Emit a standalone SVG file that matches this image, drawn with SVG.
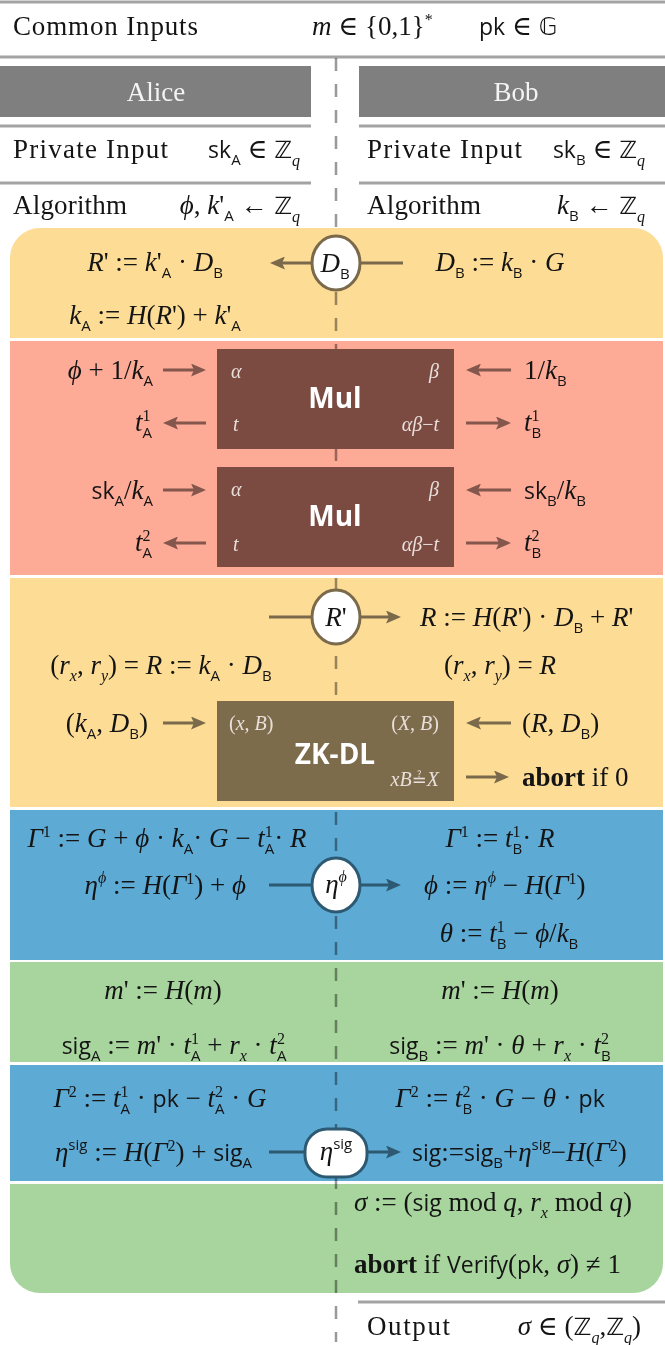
<svg xmlns="http://www.w3.org/2000/svg" width="665" height="1345" viewBox="0 0 665 1345">
<defs>
<style>
text{font-family:"Liberation Serif","DejaVu Serif",serif;font-size:27px;fill:#141414}
.lab{font-size:27px}
.i{font-style:italic}
.sf{font-family:"Open Sans","Liberation Sans",sans-serif;font-style:normal;font-size:23px}
.sb{font-family:"Open Sans","Liberation Sans",sans-serif;font-style:normal;font-size:15px}
.sm{font-size:16px}
.iq{font-style:italic;font-size:16px}
.ds{font-family:"DejaVu Sans",sans-serif;font-size:24px}
.hd{fill:#f4f4f4;font-size:27px}
.bx{font-family:"Open Sans","Liberation Sans",sans-serif;font-weight:700;font-size:28px;fill:#fff}
.pn{font-style:italic;font-size:20px;fill:#e8dfda}
.b{font-weight:700}
.rule{stroke:#a3a3a3;stroke-width:3}
.dash{stroke:#999;stroke-width:2.5;stroke-dasharray:13 13;mix-blend-mode:multiply;fill:none}
.ao{stroke:#7a6a4b;stroke-width:3;fill:none}
.ab{stroke:#84564c;stroke-width:3;fill:none}
.al{stroke:#2d5a72;stroke-width:3;fill:none}
</style>
<marker id="mo" viewBox="0 0 15 13" refX="9" refY="6.5" markerWidth="15" markerHeight="13" markerUnits="userSpaceOnUse" orient="auto"><path d="M0,0 L15,6.5 L0,13 L3,6.5 z" fill="#7a6a4b"/></marker>
<marker id="mb" viewBox="0 0 15 13" refX="9" refY="6.5" markerWidth="15" markerHeight="13" markerUnits="userSpaceOnUse" orient="auto"><path d="M0,0 L15,6.5 L0,13 L3,6.5 z" fill="#84564c"/></marker>
<marker id="ml" viewBox="0 0 15 13" refX="9" refY="6.5" markerWidth="15" markerHeight="13" markerUnits="userSpaceOnUse" orient="auto"><path d="M0,0 L15,6.5 L0,13 L3,6.5 z" fill="#2d5a72"/></marker>
</defs>
<rect width="665" height="1345" fill="#fff"/>

<!-- header rows -->
<g id="common-inputs">
<line class="rule" x1="0" y1="2" x2="665" y2="2"/>
<text class="lab" x="13" y="35" textLength="185" lengthAdjust="spacing">Common Inputs</text>
<text x="312" y="35"><tspan class="i">m</tspan> ∈ {0,1}<tspan class="sm" dy="-10">*</tspan></text>
<text x="479" y="35"><tspan class="sf">pk</tspan> ∈ <tspan class="ds">𝔾</tspan></text>
<line class="rule" x1="0" y1="57" x2="665" y2="57"/>
</g>
<g id="alice">
<rect x="0" y="66" width="311" height="51" fill="#7f7f7f"/>
<text class="hd" x="156" y="101" text-anchor="middle">Alice</text>
<line class="rule" x1="0" y1="126" x2="311" y2="126"/>
<text class="lab" x="13" y="158" textLength="155" lengthAdjust="spacing">Private Input</text>
<text x="300" y="158" text-anchor="end"><tspan class="sf">sk</tspan><tspan class="sb" dy="7">A</tspan><tspan dy="-7"> ∈ </tspan><tspan class="ds">ℤ</tspan><tspan class="iq" dy="8">q</tspan></text>
<line class="rule" x1="0" y1="183" x2="311" y2="183"/>
<text class="lab" x="13" y="214" textLength="114" lengthAdjust="spacing">Algorithm</text>
<text x="300" y="214" text-anchor="end"><tspan class="i">ϕ</tspan>, <tspan class="i">k</tspan>'<tspan class="sb" dy="7">A</tspan><tspan dy="-7"> ← </tspan><tspan class="ds">ℤ</tspan><tspan class="iq" dy="8">q</tspan></text>
</g>
<g id="bob">
<rect x="359" y="66" width="306" height="51" fill="#7f7f7f"/>
<text class="hd" x="516" y="101" text-anchor="middle">Bob</text>
<line class="rule" x1="359" y1="126" x2="665" y2="126"/>
<text class="lab" x="367" y="158" textLength="155" lengthAdjust="spacing">Private Input</text>
<text x="645" y="158" text-anchor="end"><tspan class="sf">sk</tspan><tspan class="sb" dy="7">B</tspan><tspan dy="-7"> ∈ </tspan><tspan class="ds">ℤ</tspan><tspan class="iq" dy="8">q</tspan></text>
<line class="rule" x1="359" y1="183" x2="665" y2="183"/>
<text class="lab" x="367" y="214" textLength="114" lengthAdjust="spacing">Algorithm</text>
<text x="645" y="214" text-anchor="end"><tspan class="i">k</tspan><tspan class="sb" dy="7">B</tspan><tspan dy="-7"> ← </tspan><tspan class="ds">ℤ</tspan><tspan class="iq" dy="8">q</tspan></text>
</g>

<!-- phase bands -->
<g id="bands">
<path d="M10,258 A30,30 0 0 1 40,228 H633 A30,30 0 0 1 663,258 V338 H10 Z" fill="#fddc95"/>
<rect x="10" y="341" width="653" height="234" fill="#fdaa96"/>
<rect x="10" y="578" width="653" height="229" fill="#fddc95"/>
<rect x="10" y="810" width="653" height="150" fill="#5daad5"/>
<rect x="10" y="962" width="653" height="100" fill="#a8d59e"/>
<rect x="10" y="1065" width="653" height="116" fill="#5daad5"/>
<path d="M10,1184 H663 V1263 A30,30 0 0 1 633,1293 H40 A30,30 0 0 1 10,1263 Z" fill="#a8d59e"/>
</g>

<line id="party-divider" class="dash" x1="336" y1="58" x2="336" y2="1342"/>

<g id="connectors">
<path class="ao" d="M403,263 H276" marker-end="url(#mo)"/>
<path class="ab" d="M163,370 H200" marker-end="url(#mb)"/>
<path class="ab" d="M511,370 H472" marker-end="url(#mb)"/>
<path class="ab" d="M206,423 H169" marker-end="url(#mb)"/>
<path class="ab" d="M466,423 H505" marker-end="url(#mb)"/>
<path class="ab" d="M163,490 H200" marker-end="url(#mb)"/>
<path class="ab" d="M511,490 H472" marker-end="url(#mb)"/>
<path class="ab" d="M206,543 H169" marker-end="url(#mb)"/>
<path class="ab" d="M466,543 H505" marker-end="url(#mb)"/>
<path class="ao" d="M269,617 H395" marker-end="url(#mo)"/>
<path class="ao" d="M163,723 H200" marker-end="url(#mo)"/>
<path class="ao" d="M511,723 H472" marker-end="url(#mo)"/>
<path class="ao" d="M466,777 H503" marker-end="url(#mo)"/>
<path class="al" d="M269,885 H395" marker-end="url(#ml)"/>
<path class="al" d="M269,1152 H395" marker-end="url(#ml)"/>
</g>

<!-- messages -->
<g id="msg-DB">
<ellipse cx="336" cy="263" rx="24" ry="27" fill="#fff" stroke="#7a6a4b" stroke-width="3"/>
<text x="335" y="272" text-anchor="middle"><tspan class="i">D</tspan><tspan class="sb" dy="7">B</tspan></text>
</g>
<g id="msg-R">
<ellipse cx="336" cy="617" rx="24" ry="27" fill="#fff" stroke="#7a6a4b" stroke-width="3"/>
<text x="336" y="626" text-anchor="middle"><tspan class="i">R</tspan>'</text>
</g>
<g id="msg-eta-phi">
<ellipse cx="336" cy="885" rx="24" ry="27" fill="#fff" stroke="#2d5a72" stroke-width="3"/>
<text x="336" y="893" text-anchor="middle"><tspan class="i">η</tspan><tspan class="iq" dy="-11">ϕ</tspan></text>
</g>
<g id="msg-eta-sig">
<rect x="305" y="1129" width="62" height="48" rx="22" fill="#fff" stroke="#2d5a72" stroke-width="3"/>
<text x="336" y="1160" text-anchor="middle"><tspan class="i">η</tspan><tspan class="sb" dy="-11">sig</tspan></text>
</g>

<!-- phase 1 -->
<g id="step-nonce">
<text x="155" y="271" text-anchor="middle"><tspan class="i">R</tspan>' := <tspan class="i">k</tspan>'<tspan class="sb" dy="7">A</tspan><tspan dy="-7"> · </tspan><tspan class="i">D</tspan><tspan class="sb" dy="7">B</tspan></text>
<text x="500" y="271" text-anchor="middle"><tspan class="i">D</tspan><tspan class="sb" dy="7">B</tspan><tspan dy="-7"> := </tspan><tspan class="i">k</tspan><tspan class="sb" dy="7">B</tspan><tspan dy="-7"> · </tspan><tspan class="i">G</tspan></text>
<text x="155" y="324" text-anchor="middle"><tspan class="i">k</tspan><tspan class="sb" dy="7">A</tspan><tspan dy="-7"> := </tspan><tspan class="i">H</tspan>(<tspan class="i">R</tspan>') + <tspan class="i">k</tspan>'<tspan class="sb" dy="7">A</tspan></text>
</g>

<!-- Mul 1 -->
<g id="mul1">
<rect x="217" y="349" width="237" height="100" fill="#7b4b42"/>
<text class="pn" x="231" y="378">α</text>
<text class="pn" x="439" y="378" text-anchor="end">β</text>
<text class="pn" x="233" y="431">t</text>
<text class="pn" x="439" y="431" text-anchor="end">αβ<tspan font-style="normal">−</tspan>t</text>
<text class="bx" x="335" y="408" text-anchor="middle">Mul</text>
</g>
<g id="mul1-io">
<text x="153" y="379" text-anchor="end"><tspan class="i">ϕ</tspan> + 1/<tspan class="i">k</tspan><tspan class="sb" dy="7">A</tspan></text>
<text x="524" y="379">1/<tspan class="i">k</tspan><tspan class="sb" dy="7">B</tspan></text>
<text x="152" y="431" text-anchor="end"><tspan class="i">t</tspan><tspan class="sm" dy="-10">1</tspan><tspan class="sb" dx="-8" dy="17">A</tspan></text>
<text x="524" y="431"><tspan class="i">t</tspan><tspan class="sm" dy="-10">1</tspan><tspan class="sb" dx="-8" dy="17">B</tspan></text>
</g>

<!-- Mul 2 -->
<g id="mul2">
<rect x="217" y="467" width="237" height="100" fill="#7b4b42"/>
<text class="pn" x="231" y="496">α</text>
<text class="pn" x="439" y="496" text-anchor="end">β</text>
<text class="pn" x="233" y="551">t</text>
<text class="pn" x="439" y="551" text-anchor="end">αβ<tspan font-style="normal">−</tspan>t</text>
<text class="bx" x="335" y="526" text-anchor="middle">Mul</text>
</g>
<g id="mul2-io">
<text x="153" y="499" text-anchor="end"><tspan class="sf">sk</tspan><tspan class="sb" dy="7">A</tspan><tspan dy="-7">/</tspan><tspan class="i">k</tspan><tspan class="sb" dy="7">A</tspan></text>
<text x="524" y="499"><tspan class="sf">sk</tspan><tspan class="sb" dy="7">B</tspan><tspan dy="-7">/</tspan><tspan class="i">k</tspan><tspan class="sb" dy="7">B</tspan></text>
<text x="152" y="551" text-anchor="end"><tspan class="i">t</tspan><tspan class="sm" dy="-10">2</tspan><tspan class="sb" dx="-8" dy="17">A</tspan></text>
<text x="524" y="551"><tspan class="i">t</tspan><tspan class="sm" dy="-10">2</tspan><tspan class="sb" dx="-8" dy="17">B</tspan></text>
</g>

<!-- phase R -->
<g id="step-R">
<text x="420" y="626"><tspan class="i">R</tspan> := <tspan class="i">H</tspan>(<tspan class="i">R</tspan>') · <tspan class="i">D</tspan><tspan class="sb" dy="7">B</tspan><tspan dy="-7"> + </tspan><tspan class="i">R</tspan>'</text>
<text x="161" y="674" text-anchor="middle">(<tspan class="i">r</tspan><tspan class="iq" dy="7">x</tspan><tspan dy="-7">, </tspan><tspan class="i">r</tspan><tspan class="iq" dy="7">y</tspan><tspan dy="-7">) = </tspan><tspan class="i">R</tspan> := <tspan class="i">k</tspan><tspan class="sb" dy="7">A</tspan><tspan dy="-7"> · </tspan><tspan class="i">D</tspan><tspan class="sb" dy="7">B</tspan></text>
<text x="500" y="674" text-anchor="middle">(<tspan class="i">r</tspan><tspan class="iq" dy="7">x</tspan><tspan dy="-7">, </tspan><tspan class="i">r</tspan><tspan class="iq" dy="7">y</tspan><tspan dy="-7">) = </tspan><tspan class="i">R</tspan></text>
</g>

<g id="zkdl">
<rect x="217" y="701" width="237" height="100" fill="#7d6c4c"/>
<text class="pn" x="229" y="730"><tspan font-style="normal">(</tspan>x, B<tspan font-style="normal">)</tspan></text>
<text class="pn" x="439" y="730" text-anchor="end"><tspan font-style="normal">(</tspan>X, B<tspan font-style="normal">)</tspan></text>
<text class="bx" x="335" y="764" text-anchor="middle">ZK-DL</text>
<text class="pn" x="439" y="786" text-anchor="end">xB<tspan font-style="normal" font-family="DejaVu Sans" font-size="18">≟</tspan>X</text>
</g>
<g id="zkdl-io">
<text x="148" y="732" text-anchor="end">(<tspan class="i">k</tspan><tspan class="sb" dy="7">A</tspan><tspan dy="-7">, </tspan><tspan class="i">D</tspan><tspan class="sb" dy="7">B</tspan><tspan dy="-7">)</tspan></text>
<text x="522" y="732">(<tspan class="i">R</tspan>, <tspan class="i">D</tspan><tspan class="sb" dy="7">B</tspan><tspan dy="-7">)</tspan></text>
<text x="522" y="786"><tspan class="b">abort</tspan> if 0</text>
</g>

<!-- phase eta phi -->
<g id="step-eta-phi">
<text x="167" y="847" text-anchor="middle"><tspan class="i">Γ</tspan><tspan class="sm" dy="-10">1</tspan><tspan dy="10"> := </tspan><tspan class="i">G</tspan> + <tspan class="i">ϕ</tspan> · <tspan class="i">k</tspan><tspan class="sb" dy="7">A</tspan><tspan dy="-7">· </tspan><tspan class="i">G</tspan> − <tspan class="i">t</tspan><tspan class="sm" dy="-10">1</tspan><tspan class="sb" dx="-8" dy="17">A</tspan><tspan dy="-7">· </tspan><tspan class="i">R</tspan></text>
<text x="500" y="847" text-anchor="middle"><tspan class="i">Γ</tspan><tspan class="sm" dy="-10">1</tspan><tspan dy="10"> := </tspan><tspan class="i">t</tspan><tspan class="sm" dy="-10">1</tspan><tspan class="sb" dx="-8" dy="17">B</tspan><tspan dy="-7">· </tspan><tspan class="i">R</tspan></text>
<text x="246" y="894" text-anchor="end"><tspan class="i">η</tspan><tspan class="iq" dy="-11">ϕ</tspan><tspan dy="11"> := </tspan><tspan class="i">H</tspan>(<tspan class="i">Γ</tspan><tspan class="sm" dy="-10">1</tspan><tspan dy="10">) + </tspan><tspan class="i">ϕ</tspan></text>
<text x="424" y="894"><tspan class="i">ϕ</tspan> := <tspan class="i">η</tspan><tspan class="iq" dy="-11">ϕ</tspan><tspan dy="11"> − </tspan><tspan class="i">H</tspan>(<tspan class="i">Γ</tspan><tspan class="sm" dy="-10">1</tspan><tspan dy="10">)</tspan></text>
<text x="509" y="942" text-anchor="middle"><tspan class="i">θ</tspan> := <tspan class="i">t</tspan><tspan class="sm" dy="-10">1</tspan><tspan class="sb" dx="-8" dy="17">B</tspan><tspan dy="-7"> − </tspan><tspan class="i">ϕ</tspan>/<tspan class="i">k</tspan><tspan class="sb" dy="7">B</tspan></text>
</g>

<!-- phase partial sig -->
<g id="step-partial-sig">
<text x="163" y="999" text-anchor="middle"><tspan class="i">m</tspan>' := <tspan class="i">H</tspan>(<tspan class="i">m</tspan>)</text>
<text x="500" y="999" text-anchor="middle"><tspan class="i">m</tspan>' := <tspan class="i">H</tspan>(<tspan class="i">m</tspan>)</text>
<text x="174" y="1054" text-anchor="middle"><tspan class="sf">sig</tspan><tspan class="sb" dy="7">A</tspan><tspan dy="-7"> := </tspan><tspan class="i">m</tspan>' · <tspan class="i">t</tspan><tspan class="sm" dy="-10">1</tspan><tspan class="sb" dx="-8" dy="17">A</tspan><tspan dy="-7"> + </tspan><tspan class="i">r</tspan><tspan class="iq" dy="7">x</tspan><tspan dy="-7"> · </tspan><tspan class="i">t</tspan><tspan class="sm" dy="-10">2</tspan><tspan class="sb" dx="-8" dy="17">A</tspan></text>
<text x="500" y="1054" text-anchor="middle"><tspan class="sf">sig</tspan><tspan class="sb" dy="7">B</tspan><tspan dy="-7"> := </tspan><tspan class="i">m</tspan>' · <tspan class="i">θ</tspan> + <tspan class="i">r</tspan><tspan class="iq" dy="7">x</tspan><tspan dy="-7"> · </tspan><tspan class="i">t</tspan><tspan class="sm" dy="-10">2</tspan><tspan class="sb" dx="-8" dy="17">B</tspan></text>
</g>

<!-- phase eta sig -->
<g id="step-eta-sig">
<text x="160" y="1107" text-anchor="middle"><tspan class="i">Γ</tspan><tspan class="sm" dy="-10">2</tspan><tspan dy="10"> := </tspan><tspan class="i">t</tspan><tspan class="sm" dy="-10">1</tspan><tspan class="sb" dx="-8" dy="17">A</tspan><tspan dy="-7"> · </tspan><tspan class="sf">pk</tspan> − <tspan class="i">t</tspan><tspan class="sm" dy="-10">2</tspan><tspan class="sb" dx="-8" dy="17">A</tspan><tspan dy="-7"> · </tspan><tspan class="i">G</tspan></text>
<text x="500" y="1107" text-anchor="middle"><tspan class="i">Γ</tspan><tspan class="sm" dy="-10">2</tspan><tspan dy="10"> := </tspan><tspan class="i">t</tspan><tspan class="sm" dy="-10">2</tspan><tspan class="sb" dx="-8" dy="17">B</tspan><tspan dy="-7"> · </tspan><tspan class="i">G</tspan> − <tspan class="i">θ</tspan> · <tspan class="sf">pk</tspan></text>
<text x="252" y="1161" text-anchor="end"><tspan class="i">η</tspan><tspan class="sb" dy="-11">sig</tspan><tspan dy="11"> := </tspan><tspan class="i">H</tspan>(<tspan class="i">Γ</tspan><tspan class="sm" dy="-10">2</tspan><tspan dy="10">) + </tspan><tspan class="sf">sig</tspan><tspan class="sb" dy="7">A</tspan></text>
<text x="412" y="1161"><tspan class="sf">sig</tspan>:=<tspan class="sf">sig</tspan><tspan class="sb" dy="7">B</tspan><tspan dy="-7">+</tspan><tspan class="i">η</tspan><tspan class="sb" dy="-11">sig</tspan><tspan dy="11">−</tspan><tspan class="i">H</tspan>(<tspan class="i">Γ</tspan><tspan class="sm" dy="-10">2</tspan><tspan dy="10">)</tspan></text>
</g>

<!-- final -->
<g id="step-final">
<text x="354" y="1211"><tspan class="i">σ</tspan> := (<tspan class="sf">sig</tspan> mod <tspan class="i">q</tspan>, <tspan class="i">r</tspan><tspan class="iq" dy="7">x</tspan><tspan dy="-7"> mod </tspan><tspan class="i">q</tspan>)</text>
<text x="354" y="1273"><tspan class="b">abort</tspan> if <tspan class="sf">Verify</tspan>(<tspan class="sf">pk</tspan>, <tspan class="i">σ</tspan>) ≠ 1</text>
</g>

<g id="output">
<line class="rule" x1="358" y1="1302" x2="665" y2="1302"/>
<text class="lab" x="367" y="1335" textLength="83" lengthAdjust="spacing">Output</text>
<text x="641" y="1335" text-anchor="end"><tspan class="i">σ</tspan> ∈ (<tspan class="ds">ℤ</tspan><tspan class="iq" dy="8">q</tspan><tspan dy="-8">,</tspan><tspan class="ds">ℤ</tspan><tspan class="iq" dy="8">q</tspan><tspan dy="-8">)</tspan></text>
</g>
</svg>
